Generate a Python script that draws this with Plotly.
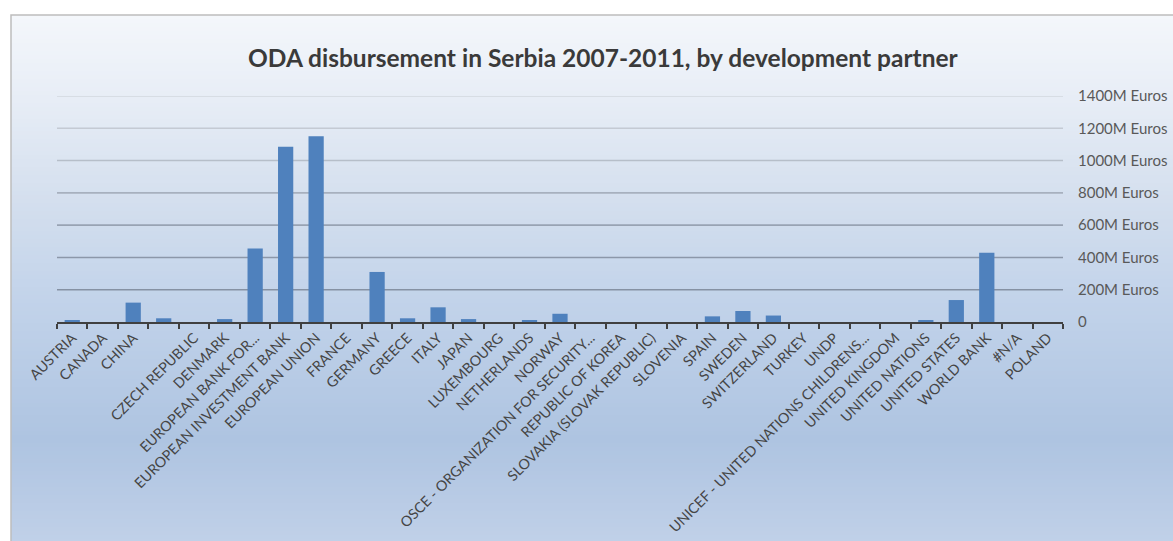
import plotly.graph_objects as go

partners = ["AUSTRIA", "CANADA", "CHINA", " ", "CZECH REPUBLIC", "DENMARK",
            "EUROPEAN BANK FOR...", "EUROPEAN INVESTMENT BANK", "EUROPEAN UNION",
            "FRANCE", "GERMANY", "GREECE", "ITALY", "JAPAN", "LUXEMBOURG",
            "NETHERLANDS", "NORWAY", "OSCE - ORGANIZATION FOR SECURITY...",
            "REPUBLIC OF KOREA", "SLOVAKIA (SLOVAK REPUBLIC)", "SLOVENIA", "SPAIN",
            "SWEDEN", "SWITZERLAND", "TURKEY", "UNDP", "UNICEF - UNITED NATIONS CHILDRENS...",
            "UNITED KINGDOM", "UNITED NATIONS", "UNITED STATES", "WORLD BANK", "#N/A", "POLAND"]
disbursement_m_eur = [11, 0, 120, 23, 0, 18,
                      456, 1085, 1151,
                      0, 310, 23, 91, 18, 0,
                      10, 51, 0,
                      0, 0, 0, 35,
                      68, 40, 0, 0, 0,
                      0, 12, 136, 429, 0, 0]
y_ticks = [0, 200, 400, 600, 800, 1000, 1200, 1400]
y_tick_labels = ["0", "200M Euros", "400M Euros", "600M Euros", "800M Euros",
                 "1000M Euros", "1200M Euros", "1400M Euros"]
title_text = "ODA disbursement in Serbia 2007-2011, by development partner"

W, H = 1173, 541
PL, PR, PT, PB = 57, 1063, 96, 322   # plot area in px


def px_x(x):
    return (x - PL) / (PR - PL)


def px_y(y):
    return (PB - y) / (PB - PT)


fig = go.Figure()

# background gradient bands of the chart box
stops = [(15, (244, 247, 251)), (100, (231, 237, 246)), (200, (212, 223, 238)),
         (300, (194, 211, 234)), (440, (174, 196, 225)), (541, (192, 208, 232))]


def col_at(y):
    for (y0, c0), (y1, c1) in zip(stops[:-1], stops[1:]):
        if y0 <= y <= y1:
            t = (y - y0) / (y1 - y0)
            return "rgb(%d,%d,%d)" % tuple(round(a + (b - a) * t) for a, b in zip(c0, c1))
    return "rgb(%d,%d,%d)" % stops[-1][1]


shapes = []
box_left = 11
step = 4
y = 15
while y < H:
    y2 = min(y + step, H + 4)
    shapes.append(dict(type="rect", xref="paper", yref="paper", layer="below",
                       x0=px_x(box_left), x1=px_x(W + 10), y0=px_y(y2 + 0.6), y1=px_y(y),
                       fillcolor=col_at(y + step / 2), line=dict(width=0)))
    y = y2
shapes.append(dict(type="rect", xref="paper", yref="paper", layer="below",
                   x0=px_x(box_left), x1=px_x(W + 10), y0=px_y(H + 10), y1=px_y(15),
                   fillcolor="rgba(0,0,0,0)", line=dict(color="#bdbdbd", width=1.5)))

# gridlines, fading towards the top like the reference
grid_colors = ["#8591a3", "#8c97a9", "#98a3b3", "#a7b0be", "#b6bec9", "#c4cad3", "#d2d7de"]
for v, c in zip(y_ticks[1:], grid_colors):
    shapes.append(dict(type="line", xref="paper", yref="y", layer="below",
                       x0=0, x1=1, y0=v, y1=v, line=dict(color=c, width=1.6)))

fig.add_trace(go.Bar(x=partners, y=disbursement_m_eur, marker=dict(color="#4f81bd", line=dict(width=0)),
                     showlegend=False))

fig.update_layout(
    width=W, height=H,
    margin=dict(l=PL, r=W - PR, t=PT, b=H - PB, pad=0),
    paper_bgcolor="white", plot_bgcolor="rgba(0,0,0,0)",
    bargap=0.5,
    shapes=shapes,
    annotations=[dict(text="<b>" + title_text + "</b>", xref="paper", yref="paper",
                      x=px_x(603), y=px_y(57), xanchor="center", yanchor="middle",
                      showarrow=False, font=dict(family="Lato", size=24.5, color="#3a3a3a"))],
    xaxis=dict(type="category", tickangle=-45, tickson="boundaries", ticks="outside",
               ticklen=5, tickwidth=2, tickcolor="#404040",
               showline=True, linecolor="#404040", linewidth=2,
               tickfont=dict(family="Lato", size=14.3, color="#454545"),
               showgrid=False, fixedrange=True, automargin=False),
    yaxis=dict(side="right", range=[0, 1400], tickvals=y_ticks, ticktext=y_tick_labels,
               tickfont=dict(family="Lato", size=15, color="#595959"),
               showgrid=False, zeroline=False,
               showline=False, ticks="", ticklabelstandoff=14, automargin=False),
    font=dict(family="Lato"),
)

fig.write_html("out.html")
